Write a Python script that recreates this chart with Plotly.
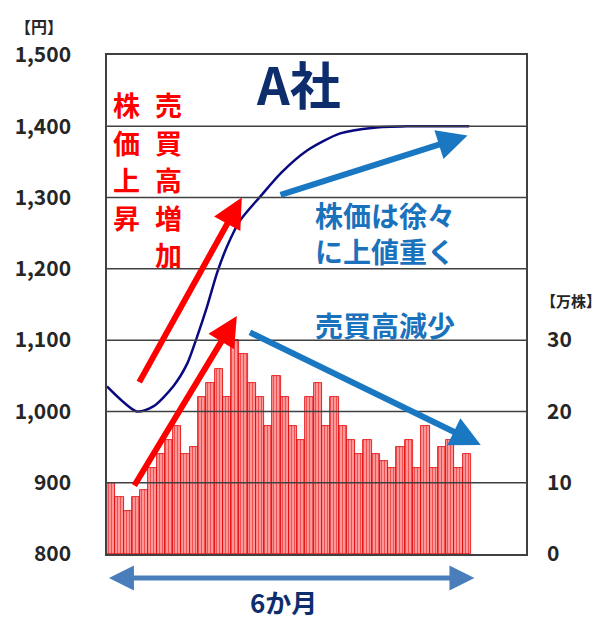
import plotly.graph_objects as go

# ---- data ----
volume = [10, 8, 6, 8, 9, 12, 14, 16, 18, 14, 15, 22, 24, 26, 22, 30, 28, 24, 22, 18,
          25, 22, 18, 16, 22, 24, 18, 22, 18, 16, 14, 16, 14, 13, 12, 15, 16, 12, 18, 12,
          15, 16, 12, 14]  # 万株
days = list(range(len(volume)))

price_x = [-0.5, 3.1, 5.1, 7.5, 9.2, 10.4, 11.6, 12.8, 14.0, 15.6, 18.0, 20.5, 23.7,
           27.7, 31.8, 35.8, 43.3]
price_y = [1035, 1000, 1007, 1035, 1067, 1105, 1147, 1194, 1231, 1268, 1301, 1334, 1366,
           1390, 1398, 1400, 1400]  # 円

left_ticks = [800, 900, 1000, 1100, 1200, 1300, 1400, 1500]
right_ticks = [0, 10, 20, 30]

# arrows: (tail_x, tail_y, head_x, head_y, color)
arrows = [
    (3.3, 1039, 15.8, 1300, "#ff0000"),
    (2.7, 894, 15.2, 1134, "#ff0000"),
    (20.3, 1303, 43.1, 1387, "#1a78c2"),
    (16.6, 1112, 44.7, 953, "#1a78c2"),
]

FONT = "Noto Sans CJK JP"
RED = "#ff0000"
BLUE = "#1a72bd"
NAVY = "#0d2d6c"

fig = go.Figure()
fig.add_trace(go.Bar(
    x=days, y=volume, yaxis="y2",
    marker=dict(color="#ff9090",
                line=dict(color="#e00000", width=0.8),
                pattern=dict(shape="|", fgcolor="#e60000", bgcolor="#ffa0a0",
                             size=3, solidity=0.4)),
    showlegend=False,
))
fig.add_trace(go.Scatter(
    x=price_x, y=price_y, mode="lines",
    line=dict(color="#0a0a80", width=2.5, shape="spline", smoothing=0.7),
    showlegend=False,
))

shapes = []
for v in left_ticks[1:-1]:
    shapes.append(dict(type="line", xref="paper", yref="y", x0=0, x1=1, y0=v, y1=v,
                       line=dict(color="#404040", width=1.5), layer="above"))

ann = []
for tx, ty, hx, hy, col in arrows:
    ann.append(dict(x=hx, y=hy, ax=tx, ay=ty, xref="x", yref="y", axref="x", ayref="y",
                    text="", showarrow=True, arrowhead=2, arrowsize=1, arrowwidth=6,
                    arrowcolor=col, standoff=0))
# bottom double arrow (6 months)
ann.append(dict(x=0.877, y=-0.048, ax=-367, ay=0, xref="paper", yref="paper",
                axref="pixel", ayref="pixel", text="", showarrow=True,
                arrowhead=2, startarrowhead=2, arrowside="end+start",
                arrowsize=1, startarrowsize=1, arrowwidth=5, arrowcolor="#4a7ebb",
                standoff=0, startstandoff=0))


def label(x, y, text, size, color, xanchor="center", align="center", pad=1):
    ann.append(dict(x=x, y=y, xref="paper", yref="paper", text=text, showarrow=False,
                    xanchor=xanchor, yanchor="middle", align=align, borderpad=pad,
                    font=dict(family=FONT, size=size, color=color)))


label(0.421, -0.096, "<b>6か月</b>", 26, NAVY)
label(0.457, 0.944, "<b>A社</b>", 51, NAVY)

# vertical red captions, one character per row
row_step = 0.075
for col_x, word in [(0.046, "株価上昇"), (0.146, "売買高増加")]:
    for i, ch in enumerate(word):
        label(col_x, 0.900 - i * row_step, "<b>" + ch + "</b>", 27, RED, pad=0)

label(0.491, 0.643, "<b>株価は徐々<br>に上値重く</b>", 28, BLUE, xanchor="left", align="left")
label(0.491, 0.459, "<b>売買高減少</b>", 28, BLUE, xanchor="left")
label(-0.163, 1.058, "<b>【円】</b>", 16, "#262626")
label(1.03, 0.509, "<b>【万株】</b>", 15, "#262626", xanchor="left")

fig.update_layout(
    width=600, height=629,
    margin=dict(l=107, r=74, t=55, b=75),
    paper_bgcolor="white", plot_bgcolor="white",
    bargap=0,
    xaxis=dict(range=[-0.5, 50.17], showticklabels=False, showgrid=False, zeroline=False,
               showline=True, mirror=True, linecolor="#404040", linewidth=1.5, ticks=""),
    yaxis=dict(range=[800, 1500], tickvals=left_ticks, tickformat=",", showgrid=False,
               zeroline=False, showline=True, mirror=True, linecolor="#404040",
               linewidth=1.5, ticks="", ticklabelstandoff=30,
               tickfont=dict(family=FONT, size=21, color="#262626", weight="bold")),
    yaxis2=dict(range=[0, 70], tickvals=right_ticks, overlaying="y", side="right",
                showgrid=False, zeroline=False, showline=False, ticks="",
                ticklabelstandoff=20,
                tickfont=dict(family=FONT, size=21, color="#262626", weight="bold")),
    shapes=shapes,
    annotations=ann,
)

fig.write_html("out.html")
